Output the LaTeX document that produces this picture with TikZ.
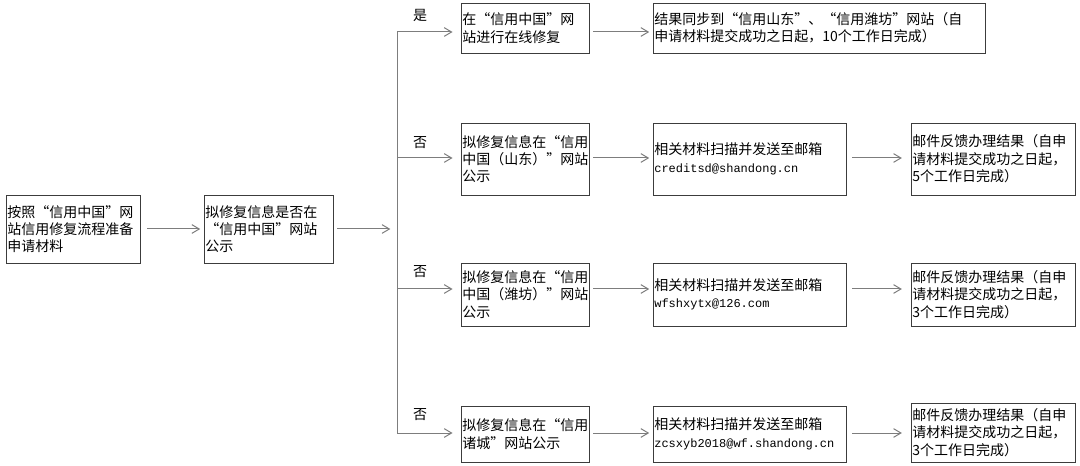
\documentclass[tikz,border=0pt]{standalone}
\usepackage{fontspec}
\newfontfamily\cjk{Noto Sans CJK SC}
\newfontfamily\mono{Liberation Mono}
\usetikzlibrary{arrows.meta}

\definecolor{linegray}{RGB}{125,125,125}
\definecolor{boxgray}{RGB}{60,60,60}
\newcommand{\mailaddr}[1]{{\mono\fontsize{9}{13}\selectfont #1}}

\begin{document}
\begin{tikzpicture}[x=0.75pt, y=-0.75pt,
	every node/.style={font=\cjk\fontsize{10.5}{13}\selectfont},
	>={Straight Barb[length=5.5pt,width=6.5pt]},
	box/.style={draw=boxgray, line width=0.7pt, rectangle, inner xsep=1pt, inner ysep=0pt, align=left},
	flow/.style={->, draw=linegray, line width=0.75pt, shorten <=3pt, shorten >=2.5pt}]
	\useasboundingbox (0,0) rectangle (1080,466);
	% preparation and check
	\node[box, text width=98.5pt, minimum height=51pt] (prep) at (73,229) {按照“信用中国”网\\站信用修复流程准备\\申请材料};
	\node[box, text width=94.75pt, minimum height=51pt] (check) at (268.5,229) {拟修复信息是否在\\“信用中国”网站\\公示};
	\draw[flow, shorten <=5pt] (prep.east) -- (check.west);
	% the split line
	\coordinate (split) at (397,229);
	\coordinate (yes) at (397,32);
	\coordinate (no1) at (397,158);
	\coordinate (no2) at (397,289);
	\coordinate (no3) at (397,433);
	\draw[flow, shorten >=5pt] (check.east) -- (split);
	\draw[linegray, line width=0.75pt] (yes) -- (no3);
	\node (yeslbl) at (420,15) {是};
	\node (nolbl1) at (420,143) {否};
	\node (nolbl2) at (420,272) {否};
	\node (nolbl3) at (420,415) {否};
	% yes: online repair
	\node[box, text width=94pt, minimum height=37.5pt] (online) at (525,28) {在“信用中国”网\\站进行在线修复};
	\node[box, text width=247pt, minimum height=37.5pt] (sync) at (819,28) {结果同步到“信用山东”、“信用潍坊”网站（自\\申请材料提交成功之日起，10个工作日完成）};
	\draw[flow, shorten <=0pt, shorten >=6pt] (yes) -- (yes -| online.west);
	\draw[flow] (online.east |- yes) -- (sync.west |- yes);
	% no: shandong
	\node[box, text width=94pt, minimum height=54pt] (pubsd) at (525,159) {拟修复信息在“信用\\中国（山东）”网站\\公示};
	\node[box, text width=142.75pt, minimum height=54pt] (mailsd) at (749.5,159) {相关材料扫描并发送至邮箱\\\mailaddr{creditsd@shandong.cn}};
	\node[box, text width=121pt, minimum height=54pt] (backsd) at (993,159) {邮件反馈办理结果（自申\\请材料提交成功之日起，\\5个工作日完成）};
	\draw[flow, shorten <=0pt, shorten >=6pt] (no1) -- (no1 -| pubsd.west);
	\draw[flow] (pubsd.east |- no1) -- (mailsd.west |- no1);
	\draw[flow, shorten <=4.5pt, shorten >=6.5pt] (mailsd.east |- no1) -- (backsd.west |- no1);
	% no: weifang
	\node[box, text width=94pt, minimum height=47.25pt] (pubwf) at (525,294.5) {拟修复信息在“信用\\中国（潍坊）”网站\\公示};
	\node[box, text width=142.75pt, minimum height=47.25pt] (mailwf) at (749.5,294.5) {相关材料扫描并发送至邮箱\\\mailaddr{wfshxytx@126.com}};
	\node[box, text width=121pt, minimum height=47.25pt] (backwf) at (993,294.5) {邮件反馈办理结果（自申\\请材料提交成功之日起，\\3个工作日完成）};
	\draw[flow, shorten <=0pt, shorten >=6pt] (no2) -- (no2 -| pubwf.west);
	\draw[flow] (pubwf.east |- no2) -- (mailwf.west |- no2);
	\draw[flow, shorten <=4.5pt, shorten >=6.5pt] (mailwf.east |- no2) -- (backwf.west |- no2);
	% no: zhucheng
	\node[box, text width=94pt, minimum height=42pt] (pubzc) at (525,434) {拟修复信息在“信用\\诸城”网站公示};
	\node[box, text width=142.75pt, minimum height=42pt] (mailzc) at (749.5,434) {相关材料扫描并发送至邮箱\\\mailaddr{zcsxyb2018@wf.shandong.cn}};
	\node[box, text width=121pt, minimum height=44.25pt] (backzc) at (993,432.5) {邮件反馈办理结果（自申\\请材料提交成功之日起，\\3个工作日完成）};
	\draw[flow, shorten <=0pt, shorten >=6pt] (no3) -- (no3 -| pubzc.west);
	\draw[flow] (pubzc.east |- no3) -- (mailzc.west |- no3);
	\draw[flow, shorten <=4.5pt, shorten >=6.5pt] (mailzc.east |- no3) -- (backzc.west |- no3);
\end{tikzpicture}
\end{document}
